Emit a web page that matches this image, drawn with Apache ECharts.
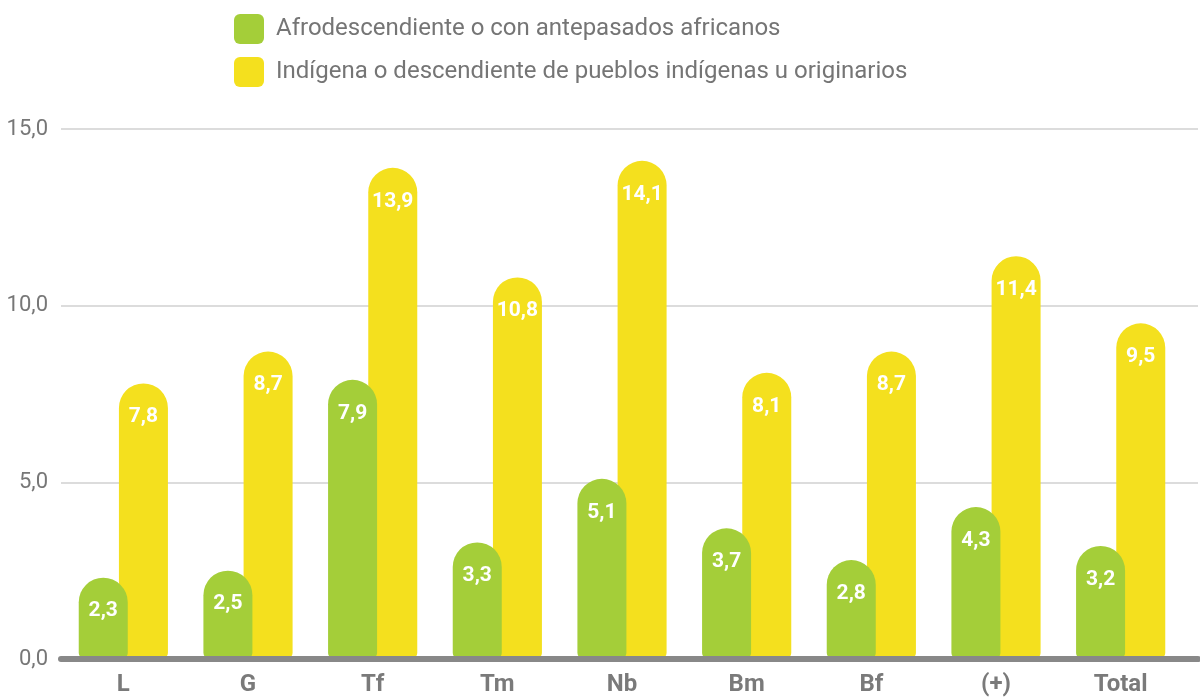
<!DOCTYPE html>
<html>
<head>
<meta charset="utf-8">
<script src="https://cdn.jsdelivr.net/npm/echarts@6/dist/echarts.min.js"></script>
<style>
html,body{margin:0;padding:0;background:#fff;}
#chart{width:1200px;height:697px;}
</style>
</head>
<body>
<div id="chart"></div>
<script>
const categories = ['L', 'G', 'Tf', 'Tm', 'Nb', 'Bm', 'Bf', '(+)', 'Total'];
const seriesNames = ['Afrodescendiente o con antepasados africanos', 'Indígena o descendiente de pueblos indígenas u originarios'];
const afroValues = [2.3, 2.5, 7.9, 3.3, 5.1, 3.7, 2.8, 4.3, 3.2];
const indigenaValues = [7.8, 8.7, 13.9, 10.8, 14.1, 8.1, 8.7, 11.4, 9.5];
const yTicks = [0, 5, 10, 15];

const fmt = v => v.toFixed(1).replace('.', ',');
const chart = echarts.init(document.getElementById('chart'));
const labelStyle = {
  show: true, position: 'insideTop', distance: 23,
  color: '#fff', fontFamily: 'Roboto', fontWeight: 'bold', fontSize: 21,
  formatter: p => fmt(p.value)
};
chart.setOption({
  animation: false,
  textStyle: {fontFamily: 'Roboto'},
  legend: {
    orient: 'vertical', left: 234, top: 14, padding: 0, itemWidth: 30, itemHeight: 30, itemGap: 13,
    icon: 'path://M6,0 H24 A6,6 0 0 1 30,6 V24 A6,6 0 0 1 24,30 H6 A6,6 0 0 1 0,24 V6 A6,6 0 0 1 6,0 Z',
    textStyle: {color: '#757575', fontSize: 24, fontFamily: 'Roboto', padding: [3, 0, 0, 7]},
    data: seriesNames
  },
  grid: [
    {left: 61, right: 2, top: 129, bottom: 38},
    {left: 61, right: 17, top: 129, bottom: 38}
  ],
  xAxis: [
    {gridIndex: 0, type: 'value', min: 0, max: 1, z: 10,
     axisLine: {show: true, lineStyle: {color: '#888', width: 6}},
     axisTick: {show: false}, axisLabel: {show: false}, splitLine: {show: false}},
    {gridIndex: 1, type: 'category', data: categories,
     axisLine: {show: false}, axisTick: {show: false},
     axisLabel: {color: '#7a7a7a', fontSize: 24, fontWeight: 'bold', margin: 14, fontFamily: 'Roboto'}}
  ],
  yAxis: [
    {gridIndex: 0, type: 'value', min: yTicks[0], max: yTicks[yTicks.length - 1], interval: 5,
     axisLine: {show: false}, axisTick: {show: false},
     axisLabel: {color: '#777', fontSize: 22, margin: 13, formatter: v => fmt(v), fontFamily: 'Roboto'},
     splitLine: {lineStyle: {color: '#d0d0d0', width: 1.5}}},
    {gridIndex: 1, type: 'value', min: yTicks[0], max: yTicks[yTicks.length - 1], interval: 5, show: false,
     splitLine: {show: false}}
  ],
  series: [
    {name: seriesNames[0], type: 'bar', xAxisIndex: 1, yAxisIndex: 1, data: afroValues,
     barWidth: 49, barGap: '-18%', z: 3,
     itemStyle: {color: '#a4ce39', borderRadius: [24.5, 24.5, 6, 6]},
     label: labelStyle},
    {name: seriesNames[1], type: 'bar', xAxisIndex: 1, yAxisIndex: 1, data: indigenaValues,
     barWidth: 49, barGap: '-18%', z: 2,
     itemStyle: {color: '#f4e01e', borderRadius: [24.5, 24.5, 6, 6]},
     label: labelStyle}
  ]
});
</script>
</body>
</html>
